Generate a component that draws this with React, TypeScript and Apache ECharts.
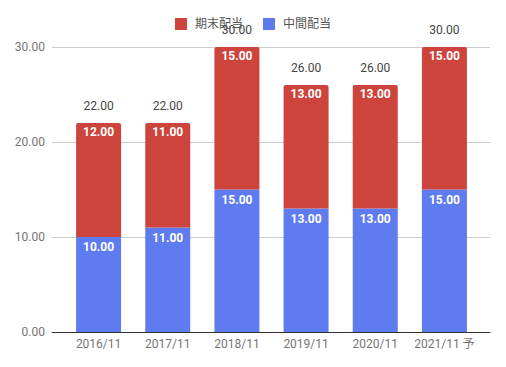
import React, { useEffect, useRef } from "react";
import * as echarts from "echarts";

const categories = ["2016/11", "2017/11", "2018/11", "2019/11", "2020/11", "2021/11 予"];
const interim = [10, 11, 15, 13, 13, 15];
const yearEnd = [12, 11, 15, 13, 13, 15];
const yTicks = { min: 0, max: 30, interval: 10 };

export default function App() {
  const ref = useRef<HTMLDivElement>(null);
  useEffect(() => {
    if (!ref.current) return;
    const chart = echarts.init(ref.current, null, { renderer: "svg" });
    const totals = interim.map((v, i) => v + yearEnd[i]);
    const font = "Roboto, 'Noto Sans CJK JP', sans-serif";
    chart.setOption({
      animation: false,
      textStyle: { fontFamily: font },
      legend: {
        data: ["期末配当", "中間配当"],
        top: 13,
        left: "center",
        itemWidth: 12,
        itemHeight: 12,
        itemGap: 20,
        icon: "rect",
        textStyle: { fontSize: 12, color: "#555", fontFamily: font, padding: [0, 0, 0, 3] },
      },
      grid: [
        { left: 52, right: 16, top: 47, bottom: 35 },
        { left: 64, right: 27, top: 47, bottom: 35 },
      ],
      xAxis: [
        {
          type: "category",
          gridIndex: 0,
          data: categories,
          axisLine: { lineStyle: { color: "#333", width: 1 } },
          axisTick: { show: false },
          axisLabel: { show: false },
          z: 5,
        },
        {
          type: "category",
          gridIndex: 1,
          data: categories,
          axisLine: { show: false },
          axisTick: { show: false },
          axisLabel: { color: "#757575", fontSize: 12, margin: 6, interval: 0, fontFamily: font },
        },
      ],
      yAxis: [
        {
          type: "value",
          gridIndex: 0,
          min: yTicks.min,
          max: yTicks.max,
          interval: yTicks.interval,
          axisLabel: {
            color: "#757575",
            fontSize: 12,
            margin: 7,
            fontFamily: font,
            formatter: (v: number) => v.toFixed(2),
          },
          splitLine: { lineStyle: { color: "#cccccc" } },
          axisLine: { show: false },
          axisTick: { show: false },
        },
        {
          type: "value",
          gridIndex: 1,
          min: yTicks.min,
          max: yTicks.max,
          interval: yTicks.interval,
          show: false,
          splitLine: { show: false },
        },
      ],
      series: [
        {
          name: "中間配当",
          type: "bar",
          stack: "d",
          xAxisIndex: 1,
          yAxisIndex: 1,
          barWidth: 45,
          data: interim,
          itemStyle: { color: "#5f7bf0" },
          label: {
            show: true,
            position: "insideTop",
            distance: 4,
            color: "#fff",
            fontWeight: "bold",
            fontSize: 12,
            fontFamily: font,
            formatter: (p: any) => Number(p.value).toFixed(2),
          },
        },
        {
          name: "期末配当",
          type: "bar",
          stack: "d",
          xAxisIndex: 1,
          yAxisIndex: 1,
          barWidth: 45,
          data: yearEnd,
          itemStyle: { color: "#cc443b", borderRadius: [2, 2, 0, 0] },
          label: {
            show: true,
            position: "insideTop",
            distance: 3,
            color: "#fff",
            fontWeight: "bold",
            fontSize: 12,
            fontFamily: font,
            formatter: (p: any) => Number(p.value).toFixed(2),
          },
        },
        {
          name: "合計",
          type: "bar",
          stack: "d",
          xAxisIndex: 1,
          yAxisIndex: 1,
          barWidth: 45,
          data: totals.map(() => 0),
          itemStyle: { color: "transparent" },
          label: {
            show: true,
            position: "top",
            distance: 11,
            color: "#444",
            fontSize: 12,
            fontFamily: font,
            formatter: (p: any) => totals[p.dataIndex].toFixed(2),
          },
        },
      ],
    });
    return () => chart.dispose();
  }, []);
  return (
    <div
      ref={ref}
      style={{ position: "fixed", left: 0, top: 0, width: 506, height: 367, background: "#fff" }}
    />
  );
}
